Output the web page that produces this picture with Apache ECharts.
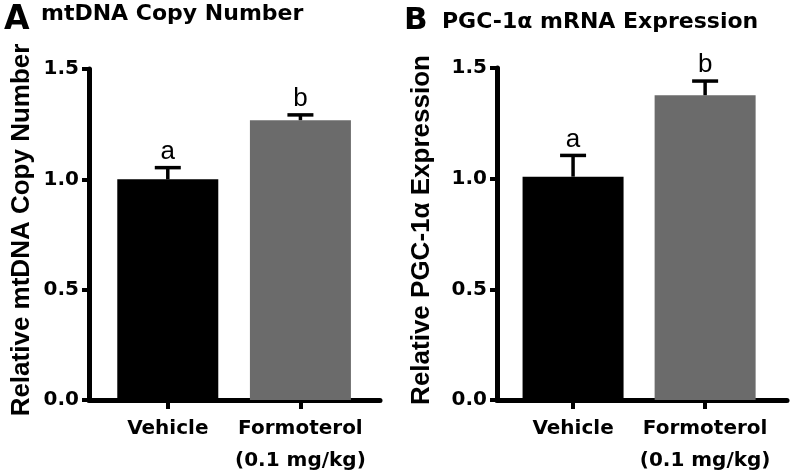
<!DOCTYPE html>
<html>
<head>
<meta charset="utf-8">
<script src="https://cdn.jsdelivr.net/npm/echarts@6/dist/echarts.min.js"></script>
<style>html,body{margin:0;padding:0;background:#fff;}#c{width:792px;height:470px;}</style>
</head>
<body>
<div id="c"></div>
<script>
// ---- data ----
const categories = ['Vehicle', 'Formoterol\n(0.1 mg/kg)'];
const catPos = [1, 2];
const mtdnaMean = [1.0, 1.268];
const mtdnaSem = [0.053, 0.024];
const pgcMean = [1.009, 1.377];
const pgcSem = [0.096, 0.064];
const sigLetters = ['a', 'b'];
const yTicks = [0, 0.5, 1.0, 1.5];
const barColors = ['#000000', '#6b6b6b'];
const panelTitles = ['mtDNA Copy Number', 'PGC-1\u03b1 mRNA Expression'];
const panelLetters = ['A', 'B'];
const yTitles = ['Relative mtDNA Copy Number', 'Relative PGC-1\u03b1 Expression'];

const DJ = 'DejaVu Sans';
const LS = 'Liberation Sans';

function xAxisFor(gi, min, max) {
  return {
    gridIndex: gi, type: 'value', min: min, max: max,
    axisLine: { onZero: false, lineStyle: { color: '#000', width: 5 } },
    axisTick: { customValues: catPos, length: 9, lineStyle: { color: '#000', width: 4 } },
    axisLabel: {
      customValues: catPos, margin: 13, color: '#000',
      fontFamily: DJ, fontWeight: 'bold', fontSize: 20, lineHeight: 32,
      formatter: v => categories[Math.round(v) - 1]
    },
    splitLine: { show: false }
  };
}
function yAxisFor(gi) {
  return {
    gridIndex: gi, type: 'value', min: yTicks[0], max: yTicks[yTicks.length - 1], interval: 0.5,
    axisLine: { show: true, onZero: false, lineStyle: { color: '#000', width: 5 } },
    axisTick: { show: true, length: 7, lineStyle: { color: '#000', width: 4 } },
    axisLabel: {
      margin: 10, color: '#000', fontFamily: DJ, fontWeight: 'bold', fontSize: 20,
      formatter: v => v.toFixed(1)
    },
    splitLine: { show: false }
  };
}
function barSeries(gi, means) {
  return {
    type: 'bar', xAxisIndex: gi, yAxisIndex: gi, barWidth: 101,
    data: means.map((m, i) => ({ value: [catPos[i], m], itemStyle: { color: barColors[i] } })),
    z: 2, animation: false
  };
}
function errSeries(gi, means, sems) {
  return {
    type: 'custom', xAxisIndex: gi, yAxisIndex: gi, z: 5, animation: false,
    data: means.map((m, i) => [catPos[i], m, sems[i]]),
    renderItem: function (params, api) {
      const x = api.value(0), m = api.value(1), s = api.value(2);
      const base = api.coord([x, m]);
      const top = api.coord([x, m + s]);
      const st = { stroke: '#000', lineWidth: 3.5 };
      return {
        type: 'group', children: [
          { type: 'line', shape: { x1: base[0], y1: base[1], x2: top[0], y2: top[1] }, style: st },
          { type: 'line', shape: { x1: top[0] - 13, y1: top[1], x2: top[0] + 13, y2: top[1] }, style: st },
          { type: 'text', style: { text: sigLetters[params.dataIndex], x: top[0], y: top[1] - 3,
              align: 'center', verticalAlign: 'bottom', font: '26px ' + LS, fill: '#000' } }
        ]
      };
    }
  };
}

const chart = echarts.init(document.getElementById('c'));
chart.setOption({
  animation: false,
  backgroundColor: '#fff',
  grid: [
    { left: 89, top: 69, width: 291, height: 331, containLabel: false, outerBoundsMode: 'none' },
    { left: 497, top: 68, width: 290, height: 332, containLabel: false, outerBoundsMode: 'none' }
  ],
  xAxis: [xAxisFor(0, 0.406, 2.6), xAxisFor(1, 0.424, 2.62)],
  yAxis: [yAxisFor(0), yAxisFor(1)],
  series: [
    barSeries(0, mtdnaMean), errSeries(0, mtdnaMean, mtdnaSem),
    barSeries(1, pgcMean), errSeries(1, pgcMean, pgcSem)
  ],
  graphic: [
    { type: 'text', x: 4, y: 20, style: { text: panelLetters[0], font: 'bold 33px ' + DJ, fill: '#000', verticalAlign: 'middle' } },
    { type: 'text', x: 41, y: 14, style: { text: panelTitles[0], font: 'bold 22px ' + DJ, fill: '#000', verticalAlign: 'middle' } },
    { type: 'text', x: 404, y: 21, style: { text: panelLetters[1], font: 'bold 31px ' + DJ, fill: '#000', verticalAlign: 'middle' } },
    { type: 'text', x: 442, y: 22, style: { text: panelTitles[1], font: 'bold 22px ' + DJ, fill: '#000', verticalAlign: 'middle' } },
    { type: 'text', x: 22, y: 230, rotation: Math.PI / 2, style: { text: yTitles[0], font: 'bold 26px ' + LS, fill: '#000', align: 'center', verticalAlign: 'middle' } },
    { type: 'text', x: 422, y: 230, rotation: Math.PI / 2, style: { text: yTitles[1], font: 'bold 26px ' + LS, fill: '#000', align: 'center', verticalAlign: 'middle' } }
  ]
});
</script>
</body>
</html>
